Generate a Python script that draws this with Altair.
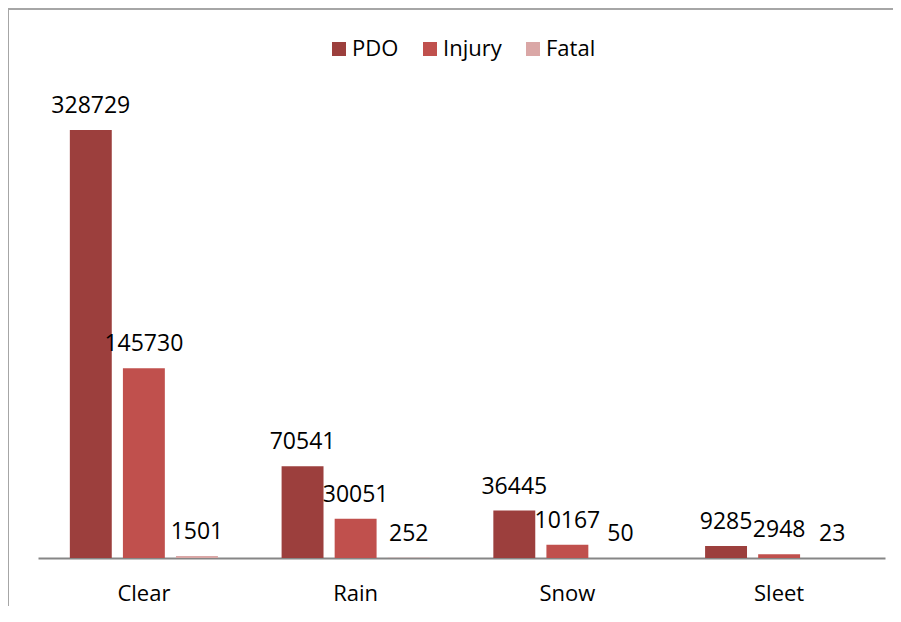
import altair as alt
import pandas as pd

categories = ["Clear", "Rain", "Snow", "Sleet"]
series = ["PDO", "Injury", "Fatal"]
pdo = [328729, 70541, 36445, 9285]
injury = [145730, 30051, 10167, 2948]
fatal = [1501, 252, 50, 23]
colors = ["#9C3F3D", "#C0504D", "#DAA7A6"]

rows = []
for i, c in enumerate(categories):
    for s, vals in zip(series, [pdo, injury, fatal]):
        rows.append({"Weather": c, "Severity": s, "Count": vals[i]})
df = pd.DataFrame(rows)

W, H = 847, 470
FONT = "Open Sans"
ymax = 328729 * H / 428.0

x_enc = alt.X("Weather:N", sort=categories, title=None,
              scale=alt.Scale(paddingInner=0, paddingOuter=0),
              axis=alt.Axis(labelAngle=0, ticks=False, labelPadding=25,
                            labelFontSize=22, labelFont=FONT, labelColor="#000000",
                            domainColor="#868686", domainWidth=2, grid=False))
xoff = alt.XOffset("Severity:N", sort=series,
                   scale=alt.Scale(paddingInner=0.21, paddingOuter=0.6))
y_enc = alt.Y("Count:Q", scale=alt.Scale(domain=[0, ymax], nice=False), axis=None)

base = alt.Chart(df)

bars = base.mark_bar().encode(
    x=x_enc, xOffset=xoff, y=y_enc,
    color=alt.Color("Severity:N", sort=series,
                    scale=alt.Scale(domain=series, range=colors),
                    legend=alt.Legend(title=None, orient="none", direction="horizontal",
                                      legendX=290, legendY=-50,
                                      symbolType="square", symbolSize=196,
                                      symbolStrokeWidth=0,
                                      labelFontSize=22, labelFont=FONT,
                                      labelColor="#000000", labelOffset=2,
                                      columnPadding=20)),
)

labels = base.mark_text(fontSize=23, font=FONT, color="#000000",
                        baseline="alphabetic", dy=-17).encode(
    x=x_enc, xOffset=xoff, y=y_enc, text="Count:Q"
)

frame_df = pd.DataFrame({"a": [0]})
left_line = alt.Chart(frame_df).mark_rule(color="#A6A6A6", strokeWidth=2).encode(
    x=alt.value(-30), y=alt.value(-79), y2=alt.value(H + 48))
top_line = alt.Chart(frame_df).mark_rule(color="#A6A6A6", strokeWidth=2).encode(
    x=alt.value(-31), x2=alt.value(W + 8), y=alt.value(-79))

chart = alt.layer(bars, labels, left_line, top_line).properties(
    width=W, height=H,
    background="#FFFFFF",
    autosize=alt.AutoSizeParams(type="none"),
    padding={"left": 30, "top": 80, "right": 8, "bottom": 48},
).configure_view(strokeWidth=0, stroke=None)

chart.save("out.html", embed_options={"renderer": "svg", "actions": False})
